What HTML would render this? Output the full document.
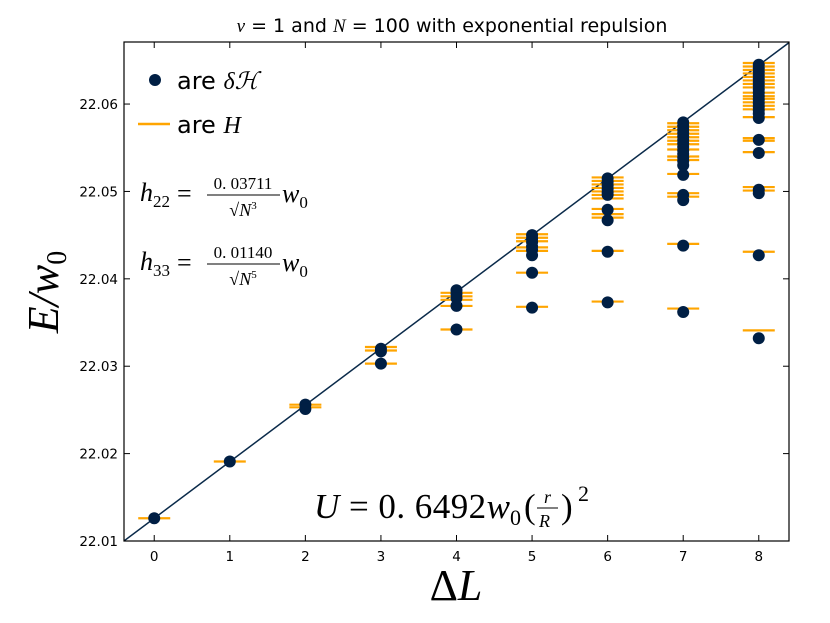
<!DOCTYPE html>
<html><head><meta charset="utf-8"><style>
html,body{margin:0;padding:0;background:#fff;}
svg{display:block;}
.tk{font-family:"DejaVu Sans","Liberation Sans",sans-serif;font-size:13.5px;fill:#000;}
.m{font-family:"Liberation Serif",serif;font-style:italic;}
.r{font-family:"Liberation Serif",serif;font-style:normal;}
</style></head><body>
<svg id="chart" width="830" height="623" viewBox="0 0 830 623">
<text x="452" y="32" text-anchor="middle" style="font-family:'DejaVu Sans','Liberation Sans',sans-serif;font-size:19px"><tspan class="m">ν</tspan> = 1 and <tspan class="m">N</tspan> = 100 with exponential repulsion</text>
<g id="plot"></g>
<rect x="124" y="42" width="665" height="499" fill="none" stroke="#000" stroke-width="1.2"/>
<g id="ticks"></g>
<text transform="translate(58,292) rotate(-90)" text-anchor="middle" class="m" style="font-size:44px">E/w<tspan class="r" style="font-size:28px" dy="8">0</tspan></text>
<text x="456" y="600" text-anchor="middle" class="r" style="font-size:44px">Δ<tspan class="m">L</tspan></text>
<g>
<circle cx="155" cy="80" r="6" fill="#001f44"/>
<text x="177" y="89" style="font-family:'DejaVu Sans',sans-serif;font-size:24px">are <tspan class="m">δℋ</tspan></text>
<line x1="138" y1="124" x2="170" y2="124" stroke="#ffa500" stroke-width="2.5"/>
<text x="177" y="133" style="font-family:'DejaVu Sans',sans-serif;font-size:24px">are <tspan class="m">H</tspan></text>
</g>
<g>
<text x="140" y="201" class="m" style="font-size:26px">h<tspan class="r" style="font-size:17px" dy="6">22</tspan></text>
<text x="177" y="202" class="r" style="font-size:26px">=</text>
<text x="243" y="189" text-anchor="middle" class="r" style="font-size:17px">0. 03711</text>
<line x1="207" y1="195" x2="280" y2="195" stroke="#000" stroke-width="1"/>
<text x="243" y="216" text-anchor="middle" class="r" style="font-size:18px">√<tspan class="m">N</tspan><tspan style="font-size:11px" dy="-7">3</tspan></text>
<text x="282" y="202" class="m" style="font-size:26px">w<tspan class="r" style="font-size:17px" dy="6">0</tspan></text>
</g>
<g>
<text x="140" y="270" class="m" style="font-size:26px">h<tspan class="r" style="font-size:17px" dy="6">33</tspan></text>
<text x="177" y="271" class="r" style="font-size:26px">=</text>
<text x="243" y="258" text-anchor="middle" class="r" style="font-size:17px">0. 01140</text>
<line x1="207" y1="264" x2="280" y2="264" stroke="#000" stroke-width="1"/>
<text x="243" y="285" text-anchor="middle" class="r" style="font-size:18px">√<tspan class="m">N</tspan><tspan style="font-size:11px" dy="-7">5</tspan></text>
<text x="282" y="271" class="m" style="font-size:26px">w<tspan class="r" style="font-size:17px" dy="6">0</tspan></text>
</g>
<g>
<text x="314" y="518" class="m" style="font-size:35px" textLength="196" lengthAdjust="spacing">U<tspan class="r"> = 0. 6492</tspan>w</text>
<text x="510" y="525" class="r" style="font-size:22px">0</text>
<text x="524" y="518" class="r" style="font-size:35px">(</text>
<text x="544" y="503" class="m" style="font-size:18px">r</text>
<line x1="537" y1="508" x2="558" y2="508" stroke="#000"/>
<text x="539" y="527" class="m" style="font-size:18px">R</text>
<text x="561" y="518" class="r" style="font-size:35px">)</text>
<text x="578" y="501" class="r" style="font-size:22px">2</text>
</g>
</svg>
<script>
const categories=[0,1,2,3,4,5,6,7,8];
const dots0=[22.0126];
const dots1=[22.0191];
const dots2=[22.0256,22.0251];
const dots3=[22.0320,22.0317,22.0303];
const dots4=[22.0387,22.0383,22.0378,22.0369,22.0342];
const dots5=[22.0450,22.0446,22.0442,22.0437,22.0433,22.0427,22.0407,22.0367];
const dots6=[22.0515,22.0511,22.0507,22.0503,22.0499,22.0496,22.0479,22.0467,22.0431,22.0373];
const dots7=[22.0579,22.0575,22.0571,22.0567,22.0563,22.0559,22.0555,22.0551,22.0547,22.0543,22.0539,22.0535,22.0530,22.0519,22.0496,22.0490,22.0438,22.0362];
const dots8=[22.0645,22.0641,22.0637,22.0633,22.0629,22.0625,22.0621,22.0617,22.0613,22.0609,22.0605,22.0601,22.0597,22.0593,22.0589,22.0584,22.0559,22.0544,22.0502,22.0498,22.0427,22.0332];
const lines0=[22.0126];
const lines1=[22.0191];
const lines2=[22.0256,22.0253];
const lines3=[22.0322,22.0318,22.0303];
const lines4=[22.0384,22.0380,22.0376,22.0369,22.0342];
const lines5=[22.0451,22.0447,22.0443,22.0436,22.0432,22.0407,22.0368];
const lines6=[22.0516,22.0512,22.0508,22.0504,22.0500,22.0496,22.0492,22.0480,22.0474,22.0470,22.0432,22.0374];
const lines7=[22.0578,22.0574,22.0570,22.0566,22.0562,22.0558,22.0554,22.0548,22.0540,22.0536,22.0520,22.0498,22.0494,22.0440,22.0366];
const lines8=[22.0647,22.0643,22.0639,22.0635,22.0631,22.0627,22.0623,22.0619,22.0613,22.0609,22.0606,22.0602,22.0598,22.0594,22.0585,22.0561,22.0558,22.0545,22.0505,22.0501,22.0431,22.0341];
const dotSets=[dots0,dots1,dots2,dots3,dots4,dots5,dots6,dots7,dots8];
const lineSets=[lines0,lines1,lines2,lines3,lines4,lines5,lines6,lines7,lines8];
const yTicks=[22.01,22.02,22.03,22.04,22.05,22.06];
const yTickLabels=["22.01","22.02","22.03","22.04","22.05","22.06"];
const xTicks=[0,1,2,3,4,5,6,7,8];
const fitStart=22.0126;
const fitSlope=0.00648;

const X0=124,X1=789,Y0=541,Y1=42,xmin=-0.4,xmax=8.4,ymin=22.01,ymax=22.0671;
function sx(v){return X0+(v-xmin)/(xmax-xmin)*(X1-X0);}
function sy(v){return Y0-(v-ymin)/(ymax-ymin)*(Y0-Y1);}
const NS="http://www.w3.org/2000/svg";
const plot=document.getElementById('plot');
const ticks=document.getElementById('ticks');
function mk(tag,attrs,parent){const e=document.createElementNS(NS,tag);for(const k in attrs)e.setAttribute(k,attrs[k]);parent.appendChild(e);return e;}

const fit=mk('line',{x1:sx(xmin),y1:sy(fitStart+fitSlope*xmin),x2:sx(xmax),y2:sy(fitStart+fitSlope*xmax),stroke:'#0a2a4a','stroke-width':1.5},plot);



categories.forEach((c,i)=>{
  lineSets[i].forEach(v=>{
    const l=mk('line',{x1:sx(c)-16,x2:sx(c)+16,y1:sy(v),y2:sy(v),stroke:'#ffa500','stroke-width':2.2},plot);
    
    
  });
});
categories.forEach((c,i)=>{
  dotSets[i].forEach(v=>{
    const d=mk('circle',{cx:sx(c),cy:sy(v),r:6,fill:'#001f44'},plot);
    
    
  });
});
yTicks.forEach((v,i)=>{
  const y=sy(v);
  const a=mk('line',{x1:X0,x2:X0+6,y1:y,y2:y,stroke:'#000'},ticks);
  
  
  const b=mk('line',{x1:X1-6,x2:X1,y1:y,y2:y,stroke:'#000'},ticks);
  
  
  const t=mk('text',{x:X0-6,y:y+5,'text-anchor':'end','class':'tk'},ticks);
  t.textContent=yTickLabels[i];
  
  
});
xTicks.forEach(v=>{
  const x=sx(v);
  const a=mk('line',{x1:x,x2:x,y1:Y0,y2:Y0-6,stroke:'#000'},ticks);
  
  
  const b=mk('line',{x1:x,x2:x,y1:Y1,y2:Y1+6,stroke:'#000'},ticks);
  
  
  const t=mk('text',{x:x,y:Y0+20,'text-anchor':'middle','class':'tk'},ticks);
  t.textContent=String(v);
  
  
});
</script>
</body></html>
